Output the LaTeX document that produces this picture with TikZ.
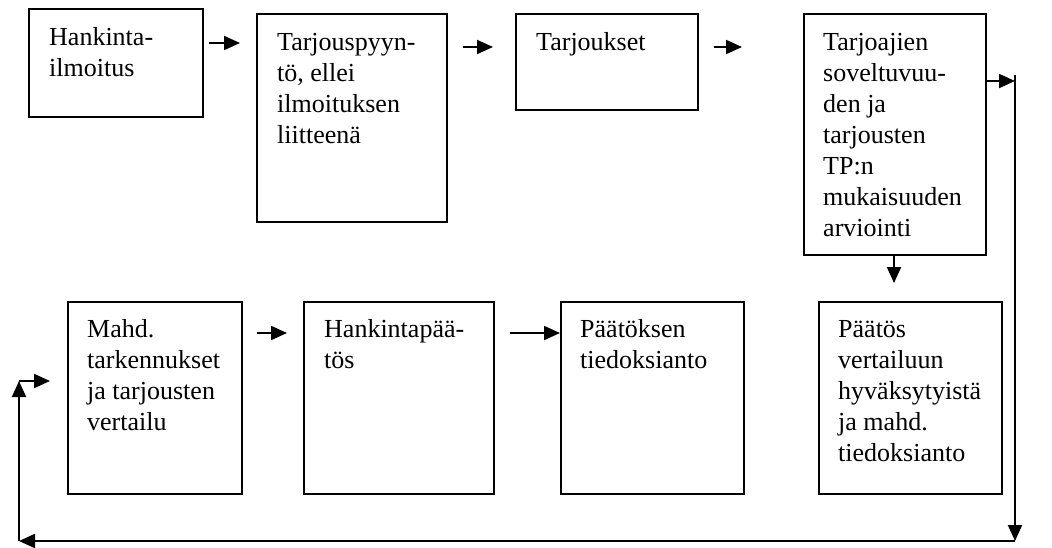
\documentclass[tikz,border=0pt]{standalone}
\usepackage{fontspec}
\setmainfont{Liberation Serif}
\usetikzlibrary{arrows.meta,calc}
\begin{document}
\begin{tikzpicture}[x=1pt,y=-1pt,
  stage/.style={draw,line width=1.6pt,inner sep=0pt},
  lbl/.style={anchor=base west,inner sep=0pt,font=\fontsize{26}{31}\selectfont},
  arr/.style={line width=2pt,-{Triangle[length=16pt,width=14pt]}},
  ln/.style={line width=2pt}]
\useasboundingbox (0,0) rectangle (1052,547);
\newcommand{\stagebox}[5]{\node[stage,minimum width=#4-#2,minimum height=#5-#3,anchor=north west] (#1) at (#2,#3) {};}
\stagebox{b1}{28}{8}{202}{116}
\stagebox{b2}{256}{13}{446}{221}
\stagebox{b3}{515}{13}{697}{109}
\stagebox{b4}{803}{13}{985}{254}
\stagebox{b5}{67}{301}{241}{493}
\stagebox{b6}{303}{301}{493}{493}
\stagebox{b7}{560}{301}{743}{493}
\stagebox{b8}{818}{301}{1001}{493}
\node[lbl] (t1) at (49,45) {\begin{tabular}[t]{@{}l@{}}Hankinta-\\ilmoitus\end{tabular}};
\node[lbl] (t2) at (277,50) {\begin{tabular}[t]{@{}l@{}}Tarjouspyyn-\\tö, ellei\\ilmoituksen\\liitteenä\end{tabular}};
\node[lbl] (t3) at (536,50) {\begin{tabular}[t]{@{}l@{}}Tarjoukset\end{tabular}};
\node[lbl] (t4) at (823,50) {\begin{tabular}[t]{@{}l@{}}Tarjoajien\\soveltuvuu-\\den ja\\tarjousten\\TP:n\\mukaisuuden\\arviointi\end{tabular}};
\node[lbl] (t5) at (87,337) {\begin{tabular}[t]{@{}l@{}}Mahd.\\tarkennukset\\ja tarjousten\\vertailu\end{tabular}};
\node[lbl] (t6) at (324,337) {\begin{tabular}[t]{@{}l@{}}Hankintapää-\\tös\end{tabular}};
\node[lbl] (t7) at (580,337) {\begin{tabular}[t]{@{}l@{}}Päätöksen\\tiedoksianto\end{tabular}};
\node[lbl] (t8) at (838,337) {\begin{tabular}[t]{@{}l@{}}Päätös\\vertailuun\\hyväksytyistä\\ja mahd.\\tiedoksianto\end{tabular}};
% top row arrows
\draw[arr] ($(b1.north east)+(5,35)$) -- ($(b2.north west)+(-16,30)$);
\draw[arr] ($(b2.north east)+(15,34)$) -- ($(b3.north west)+(-22,34)$);
\draw[arr] ($(b3.north east)+(15,34)$) -- ($(b4.north west)+(-61,34)$);
% loop back
\coordinate (c1) at (1015,81);
\coordinate (c2) at (1015,541);
\coordinate (c3) at (19,541);
\coordinate (c4) at (19,381);
\draw[arr] (b4.east |- c1) -- (c1);
\draw[ln] (1015,75) -- (c1);
\draw[arr] (c1) -- (c2);
\draw[arr] (c2) -- (c3);
\draw[arr] (c3) -- (c4);
\draw[arr] (c4) -- ($(b5.west |- c4)+(-17,0)$);
% down arrow
\draw[arr] (b4.south -| 894,0) -- ($(b8.north -| 894,0)+(0,-18)$);
% bottom row arrows
\draw[arr] ($(b5.north east)+(14,32)$) -- ($(b6.north west)+(-16,32)$);
\draw[arr] ($(b6.north east)+(15,32)$) -- (b7.west |- 0,333);
\end{tikzpicture}
\end{document}
